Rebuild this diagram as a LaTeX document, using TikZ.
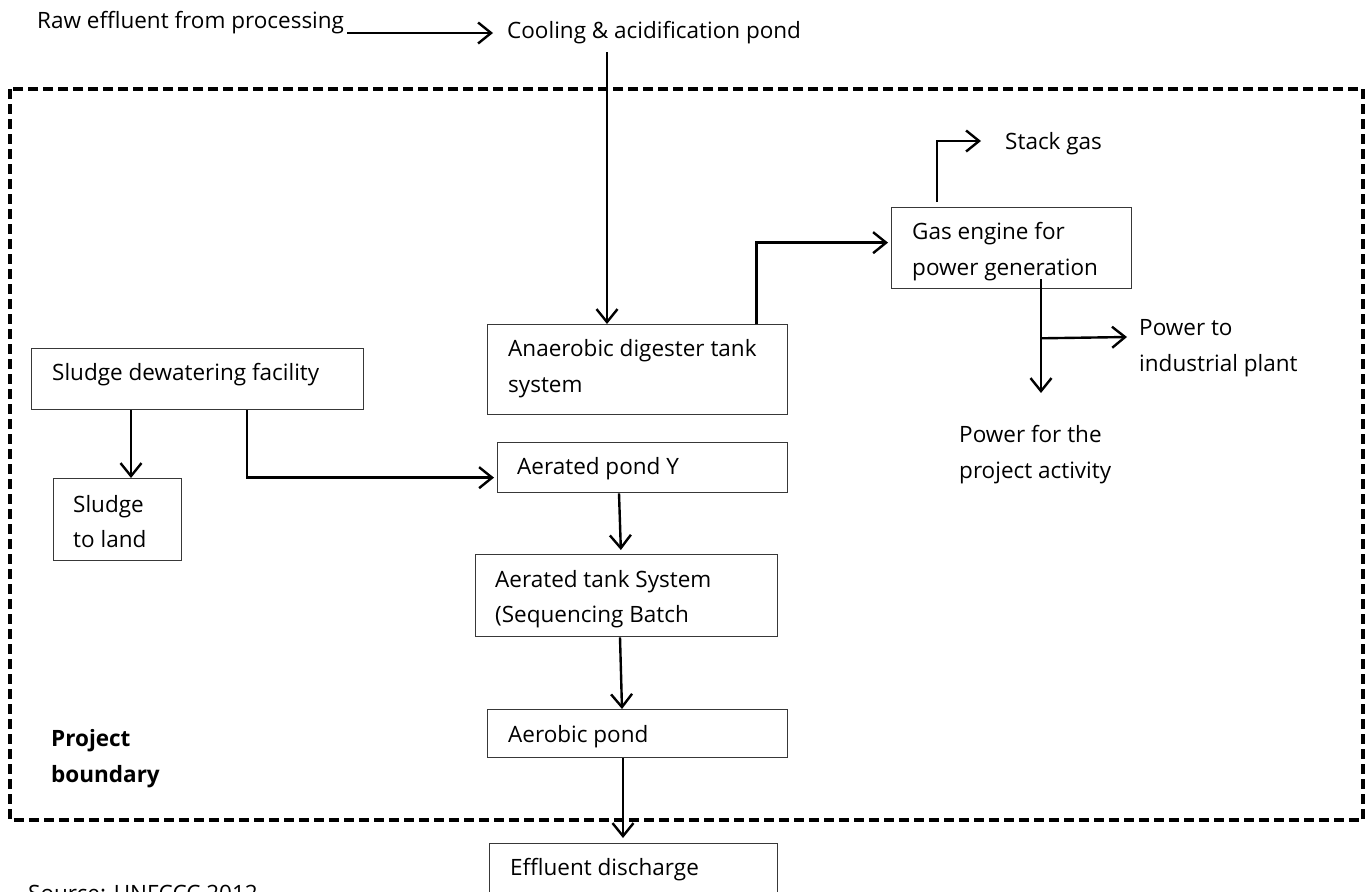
\documentclass[tikz,border=0pt]{standalone}
\usepackage{fontspec}
\setmainfont{Open Sans}
\usetikzlibrary{arrows.meta,calc}
\tikzset{
  boxst/.style={draw=black!78, line width=1.3pt, rectangle, inner sep=0pt, anchor=north west},
  txt/.style={inner sep=0pt, anchor=base west, font=\fontsize{22.5}{27}\selectfont},
  btxt/.style={txt, font=\fontsize{22.5}{27}\selectfont\bfseries},
  arr/.style={line width=2.4pt, -{Straight Barb[length=13pt,width=21pt,line width=2.4pt]}},
  boundary/.style={line width=3.5pt, dash pattern=on 10pt off 5pt}
}
\begin{document}
\begin{tikzpicture}[x=1pt,y=-1pt]
\clip (0,0) rectangle (1369,892);
\useasboundingbox (0,0) rectangle (1369,892);

% project boundary
\draw[boundary] (10,89) rectangle (1363,820);

% boxes
\node[boxst, minimum width=300pt, minimum height=90pt] (anab) at (487,324) {};
\node[boxst, minimum width=332pt, minimum height=61pt] (sdw) at (31,348) {};
\node[boxst, minimum width=128pt, minimum height=82pt] (stl) at (53,478) {};
\node[boxst, minimum width=290pt, minimum height=50pt] (pondy) at (497,442) {};
\node[boxst, minimum width=302pt, minimum height=82pt] (atank) at (475,554) {};
\node[boxst, minimum width=300pt, minimum height=48pt] (aerob) at (487,709) {};
\node[boxst, minimum width=288pt, minimum height=70pt] (eff) at (489,843) {};
\node[boxst, minimum width=240pt, minimum height=81pt] (gas) at (891,207) {};

% box texts
\node[txt] (anabt1) at ($(anab.north west)+(21,32)$) {Anaerobic digester tank};
\node[txt] (anabt2) at ($(anab.north west)+(21,68)$) {system};
\node[txt] (sdwt) at ($(sdw.north west)+(21,32)$) {Sludge dewatering facility};
\node[txt] (stlt1) at ($(stl.north west)+(20,34)$) {Sludge};
\node[txt] (stlt2) at ($(stl.north west)+(20,69)$) {to land};
\node[txt] (pondyt) at ($(pondy.north west)+(20,32)$) {Aerated pond Y};
\node[txt] (atankt1) at ($(atank.north west)+(20,33)$) {Aerated tank System};
\begin{scope}
\clip (atank.north west) rectangle (atank.south east);
\node[txt] (atankt2) at ($(atank.north west)+(20,68)$) {(Sequencing Batch};
\end{scope}
\node[txt] (aerobt) at ($(aerob.north west)+(21,33)$) {Aerobic pond};
\node[txt] (efft) at ($(eff.north west)+(21,32)$) {Effluent discharge};
\node[txt] (gast1) at ($(gas.north west)+(21,32)$) {Gas engine for};
\begin{scope}
\clip (gas.north west) rectangle (gas.south east);
\node[txt] (gast2) at ($(gas.north west)+(21,68)$) {power generation};
\end{scope}

% free texts
\node[txt] (raw) at (37,28) {Raw effluent from processing};
\node[txt] (cool) at (507,38) {Cooling \& acidification pond};
\node[txt] (stack) at (1005,149) {Stack gas};
\node[txt] (pi1) at (1139,335) {Power to};
\node[txt] (pi2) at (1139,371) {industrial plant};
\node[txt] (pp1) at (959,442) {Power for the};
\node[txt] (pp2) at (959,478) {project activity};
\node[btxt] (proj1) at (51,746) {Project};
\node[btxt] (proj2) at (51,782) {boundary};
\node[txt] (src) at (28,901) {Source: UNFCCC 2012};

% connectors
\draw[arr] ($(raw.base east)+(3,5)$) -- ($(cool.base west)+(-14,-5)$);
\coordinate (c1) at ($(cool.base west)+(100,14)$);
\draw[arr] (c1) -- (c1 |- anab.north);
\coordinate (c2) at ($(anab.north east)+(-32,0)$);
\draw[arr, shorten >=3pt] (c2) |- ($(gas.west)+(0,-5.5)$);
\draw[arr] ($(gas.north west)+(46,-5)$) |- ($(stack.base west)+(-24,-8)$);
\draw[arr] ($(gas.south west)+(150,-10)$) -- ($(pp1.base west)+(82,-49)$);
\draw[arr] ($(gas.south west)+(150,49)$) -- ($(pi1.base west)+(-12,2)$);
\coordinate (c4) at ($(sdw.south west)+(100,0)$);
\draw[arr] (c4) -- (c4 |- stl.north);
\coordinate (c5) at ($(sdw.south west)+(216,0)$);
\draw[arr, shorten >=3pt] (c5) |- ($(pondy.west)+(0,10)$);
\draw[arr, shorten >=4pt] ($(pondy.south west)+(122,0)$) -- ($(atank.north west)+(146,0)$);
\draw[arr] ($(atank.south west)+(145,0)$) -- ($(aerob.north west)+(135,0)$);
\draw[arr, shorten >=5pt] ($(aerob.south west)+(136,0)$) -- ($(eff.north west)+(134,0)$);
\end{tikzpicture}
\end{document}
